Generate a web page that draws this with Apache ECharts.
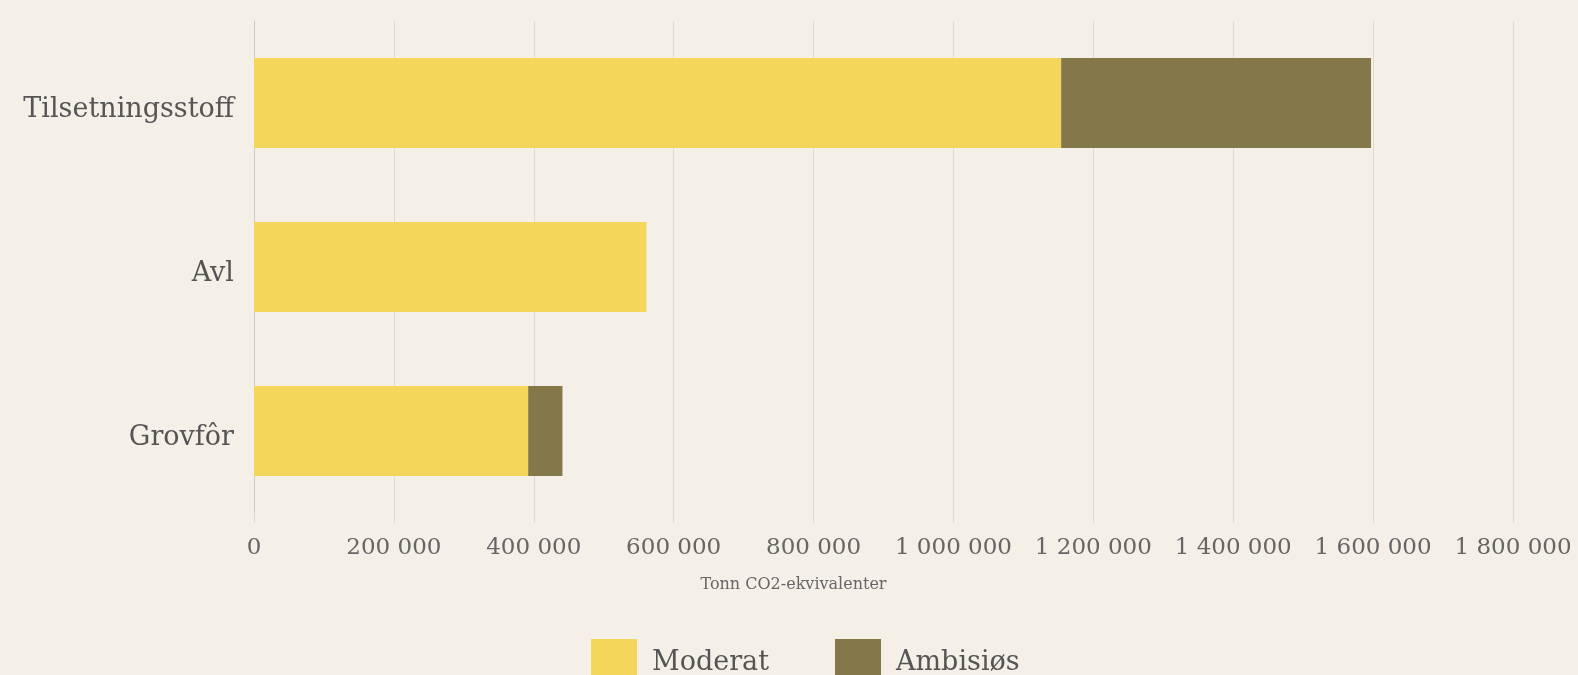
<!DOCTYPE html>
<html>
<head>
<meta charset="utf-8">
<script src="https://cdn.jsdelivr.net/npm/echarts@6/dist/echarts.min.js"></script>
<style>
html,body{margin:0;padding:0;background:#f4f0e7;}
#c{width:1578px;height:675px;}
</style>
</head>
<body>
<div id="c"></div>
<script>
const categories = ['Grovfôr', 'Avl', 'Tilsetningsstoff'];
const moderat = [392000, 561000, 1154000];
const ambisios = [49000, 0, 443000];
const seriesNames = ['Moderat', 'Ambisiøs'];
const axisName = 'Tonn CO2-ekvivalenter';
const xMin = 0, xMax = 1800000, xStep = 200000;

const FONT = '"DejaVu Serif", serif';
const chart = echarts.init(document.getElementById('c'));
chart.setOption({
  backgroundColor: '#f4f0e7',
  animation: false,
  grid: { left: 254, right: 65, top: 21, bottom: 162, containLabel: false },
  legend: {
    data: seriesNames,
    left: 586, top: 634,
    icon: 'rect', itemWidth: 46, itemHeight: 48, itemGap: 66,
    textStyle: { fontFamily: FONT, fontSize: 27, color: '#555', padding: [0, 0, 0, 10] }
  },
  xAxis: {
    type: 'value', min: xMin, max: xMax, interval: xStep,
    name: axisName, nameLocation: 'middle', nameGap: 64,
    nameTextStyle: { fontFamily: FONT, fontSize: 16, color: '#666', padding: [0, 180, 0, 0] },
    axisLine: { show: false },
    axisTick: { show: true, length: 10, lineStyle: { color: '#dedad2' } },
    splitLine: { show: true, lineStyle: { color: '#dedad2', width: 1 } },
    axisLabel: {
      margin: 24, fontFamily: FONT, fontSize: 23, color: '#666',
      formatter: v => String(v).replace(/\B(?=(\d{3})+(?!\d))/g, ' ')
    }
  },
  yAxis: {
    type: 'category', data: categories,
    axisLine: { show: true, lineStyle: { color: '#cfcbc2', width: 1 } },
    axisTick: { show: false },
    axisLabel: {
      margin: 20, color: '#555',
      formatter: v => '{a|' + v + '}',
      rich: { a: { fontFamily: FONT, fontSize: 27, color: '#555', padding: [14, 0, 0, 0] } }
    }
  },
  series: [
    { name: seriesNames[0], type: 'bar', stack: 's', data: moderat, barWidth: '55%',
      itemStyle: { color: '#f3d65a' } },
    { name: seriesNames[1], type: 'bar', stack: 's', data: ambisios, barWidth: '55%',
      itemStyle: { color: '#84774a' } }
  ]
});
</script>
</body>
</html>
